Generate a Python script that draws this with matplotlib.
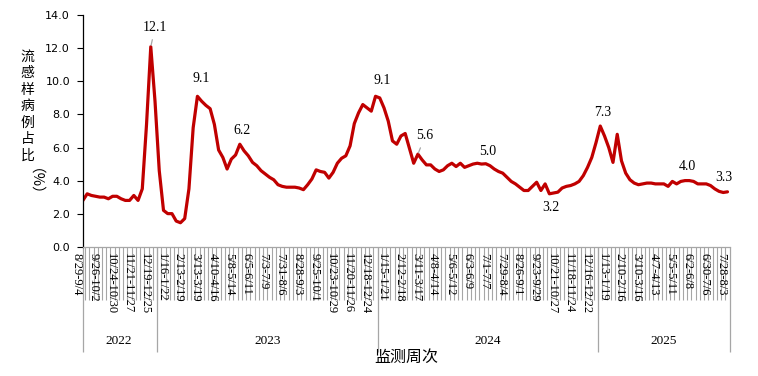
import matplotlib
matplotlib.use("Agg")
import matplotlib.pyplot as plt
import matplotlib.transforms as mtransforms

# ---------------------------------------------------------------- data
# weekly share of ILI cases (%), week of 2022-08-29 .. week of 2025-07-28
ili_share = [
    2.8, 3.2, 3.1, 3.05, 3.0, 3.0, 2.9, 3.05, 3.05, 2.9,
    2.8, 2.8, 3.1, 2.8, 3.5, 7.4, 12.1, 8.8, 4.6, 2.2,
    2.0, 2.0, 1.55, 1.45, 1.7, 3.5, 7.2, 9.1, 8.8, 8.55,
    8.35, 7.4, 5.85, 5.4, 4.7, 5.3, 5.55, 6.2, 5.8, 5.5,
    5.1, 4.9, 4.6, 4.4, 4.2, 4.05, 3.75, 3.65, 3.6, 3.6,
    3.6, 3.55, 3.45, 3.75, 4.1, 4.65, 4.55, 4.5, 4.15, 4.5,
    5.05, 5.35, 5.5, 6.1, 7.45, 8.1, 8.6, 8.4, 8.2, 9.1,
    9.0, 8.4, 7.6, 6.4, 6.2, 6.7, 6.85, 5.95, 5.05, 5.6,
    5.25, 4.95, 4.95, 4.7, 4.55, 4.65, 4.9, 5.05, 4.85, 5.05,
    4.8, 4.9, 5.0, 5.05, 5.0, 5.02, 4.9, 4.7, 4.55, 4.45,
    4.2, 3.95, 3.8, 3.6, 3.4, 3.4, 3.65, 3.9, 3.4, 3.8,
    3.2, 3.25, 3.3, 3.55, 3.65, 3.7, 3.8, 3.95, 4.3, 4.8,
    5.4, 6.3, 7.3, 6.7, 6.0, 5.1, 6.8, 5.2, 4.45, 4.05,
    3.85, 3.75, 3.8, 3.85, 3.85, 3.8, 3.8, 3.8, 3.65, 3.95,
    3.8, 3.95, 4.0, 4.0, 3.95, 3.8, 3.8, 3.8, 3.7, 3.5,
    3.35, 3.28, 3.32,
]

# every 4th week is labelled
week_labels = [
    "8/29-9/4", "9/26-10/2", "10/24-10/30", "11/21-11/27", "12/19-12/25",
    "1/16-1/22", "2/13-2/19", "3/13-3/19", "4/10-4/16", "5/8-5/14",
    "6/5-6/11", "7/3-7/9", "7/31-8/6", "8/28-9/3", "9/25-10/1",
    "10/23-10/29", "11/20-11/26", "12/18-12/24",
    "1/15-1/21", "2/12-2/18", "3/11-3/17", "4/8-4/14", "5/6-5/12",
    "6/3-6/9", "7/1-7/7", "7/29-8/4", "8/26-9/1", "9/23-9/29",
    "10/21-10/27", "11/18-11/24", "12/16-12/22",
    "1/13-1/19", "2/10-2/16", "3/10-3/16", "4/7-4/13", "5/5-5/11",
    "6/2-6/8", "6/30-7/6", "7/28-8/3",
]
label_step = 4

years = ["2022", "2023", "2024", "2025"]
weeks_per_year = [18, 52, 52, 31]

# labelled points: index -> text offset (dx weeks, dy %) and leader line flag
peak_idx = [16, 27, 37, 69, 79, 95, 122, 110, 142, 152]
peak_dx = [1.0, 1.0, 0.5, 1.5, 1.7, 0.5, 0.6, 0.4, 0.5, -0.8]
peak_dy = [1.15, 1.1, 0.8, 0.98, 1.1, 0.73, 0.79, -0.8, 0.88, 0.88]
peak_leader = [True, False, False, False, True, False, False, False, False, False]

RED = "#C00000"
GREY = "#A6A6A6"
SERIF = "Liberation Serif"
CJK = ["Noto Sans CJK SC", "DejaVu Sans"]

# ---------------------------------------------------------------- figure
W, H = 758, 376
fig = plt.figure(figsize=(W / 100, H / 100), dpi=100)
x0, x1, y0, y1 = 82.5, 729.6, 15.3, 246.7
ax = fig.add_axes([x0 / W, 1 - y1 / H, (x1 - x0) / W, (y1 - y0) / H])

n = len(ili_share)
xs = list(range(n))
ax.plot(xs, ili_share, color=RED, lw=2.3, solid_joinstyle="round", solid_capstyle="round")

ax.set_xlim(-0.1, n - 0.5)
ax.set_ylim(0, 14)
ax.set_yticks(range(0, 15, 2))
ax.set_yticklabels([f"{v:.1f}" for v in range(0, 15, 2)], fontsize=8, family="DejaVu Sans")
ax.tick_params(axis="y", direction="out", length=4, width=0.8, pad=5)
ax.set_xticks([])

for s in ["top", "right"]:
    ax.spines[s].set_visible(False)
ax.spines["left"].set_color("black")
ax.spines["left"].set_linewidth(0.9)
ax.spines["bottom"].set_color(GREY)
ax.spines["bottom"].set_linewidth(0.9)

# category table under the axis
xt = ax.get_xaxis_transform()
axh = y1 - y0
short_end = -(300 - y1) / axh
long_end = -(352 - y1) / axh
ax.vlines([i + 0.5 for i in range(n - 1)], short_end, 0, transform=xt,
          color=GREY, lw=0.8, clip_on=False, zorder=0)

bounds = [-0.1]
acc = -0.5
for w in weeks_per_year:
    acc += w
    bounds.append(acc)
ax.vlines(bounds, long_end, 0, transform=xt, color=GREY, lw=0.9, clip_on=False, zorder=0)

shift = mtransforms.ScaledTranslation(-6 / 100, 0, fig.dpi_scale_trans)
for k, lab in enumerate(week_labels):
    ax.text(k * label_step, -(253 - y1) / axh, lab, transform=xt + shift,
            rotation=-90, ha="center", va="top", fontsize=9, family=SERIF)

start = -0.5
for yr, w in zip(years, weeks_per_year):
    ax.text(start + w / 2, -(341 - y1) / axh, yr, transform=xt,
            ha="center", va="center", fontsize=9.5, family=SERIF)
    start += w

ax.text(0.5, -(357 - y1) / axh, "监测周次", transform=ax.transAxes,
        ha="center", va="center", fontsize=11.5, family=CJK)

# vertical y label: stacked upright characters, then rotated (%)
for k, ch in enumerate("流感样病例占比"):
    fig.text(27.5 / W, 1 - (57 + 16.4 * k) / H, ch, ha="center", va="center",
             fontsize=10, family=CJK)
fig.text(27.5 / W, 1 - 189 / H, "（%）", ha="center", va="center",
         rotation=-90, fontsize=10.5, family=CJK)

# peak labels
for i, dx, dy, lead in zip(peak_idx, peak_dx, peak_dy, peak_leader):
    v = ili_share[i]
    if lead:
        ax.annotate(f"{v:.1f}", xy=(i, v), xytext=(i + dx, v + dy),
                    ha="center", va="center", fontsize=10, family=SERIF,
                    arrowprops=dict(arrowstyle="-", color=GREY, lw=0.9,
                                    shrinkA=2, shrinkB=1))
    else:
        ax.text(i + dx, v + dy, f"{v:.1f}", ha="center", va="center",
                fontsize=10, family=SERIF)

fig.savefig("out.png", dpi=100)
